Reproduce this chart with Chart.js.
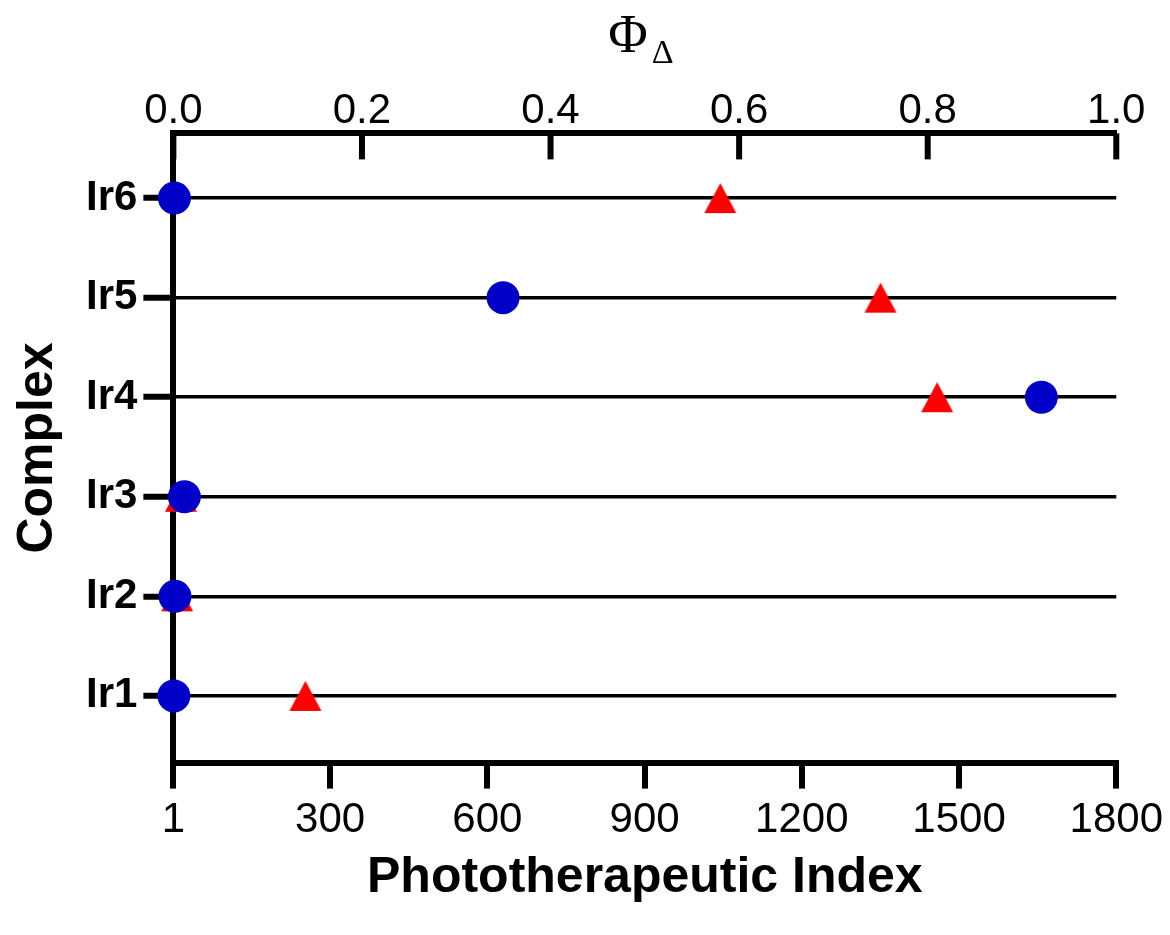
<!DOCTYPE html>
<html>
<head>
<meta charset="utf-8">
<script src="https://cdn.jsdelivr.net/npm/chart.js@4.4.1/dist/chart.umd.min.js"></script>
<style>
  html, body { margin: 0; padding: 0; background: #fff; }
</style>
</head>
<body>
<canvas id="chart" width="1170" height="935"></canvas>
<script>
// Data
const complexes = ['Ir1', 'Ir2', 'Ir3', 'Ir4', 'Ir5', 'Ir6'];
const ptIndex = [2, 4, 22, 1657, 630, 3];              // blue circles, bottom axis
const phiDelta = [0.14, 0.004, 0.008, 0.81, 0.75, 0.58]; // red triangles, top axis
const ptTicks = [1, 300, 600, 900, 1200, 1500, 1800];
const phiTicks = [0, 0.2, 0.4, 0.6, 0.8, 1.0];

const FONT = '"Liberation Sans", Arial, sans-serif';

// triangle marker, box centred on the point
function makeTriangle(color) {
    const c = document.createElement('canvas');
    c.width = 36;
    c.height = 36;
    const g = c.getContext('2d');
    g.fillStyle = color;
    g.beginPath();
    g.moveTo(18, 3);
    g.lineTo(34, 33);
    g.lineTo(2, 33);
    g.closePath();
    g.fill();
    return c;
}

// inward tick marks on the top axis + the Φ_Δ title
const topAxisExtras = {
    id: 'topAxisExtras',
    beforeDatasetsDraw(chart) {
        const s = chart.scales.x2;
        const ctx = chart.ctx;
        ctx.save();
        ctx.strokeStyle = '#000';
        ctx.lineWidth = 6;
        s.ticks.forEach(t => {
            const px = s.getPixelForValue(t.value);
            ctx.beginPath();
            ctx.moveTo(px, s.bottom);
            ctx.lineTo(px, s.bottom + 26);
            ctx.stroke();
        });
        ctx.restore();
    },
    afterDraw(chart) {
        const area = chart.chartArea;
        const ctx = chart.ctx;
        const cx = (area.left + area.right) / 2;
        ctx.save();
        ctx.fillStyle = '#000';
        ctx.textBaseline = 'alphabetic';
        ctx.textAlign = 'left';
        ctx.font = '54px "Liberation Serif", "Times New Roman", serif';
        const wPhi = ctx.measureText('Φ').width;
        ctx.font = '34px "Liberation Serif", "Times New Roman", serif';
        const wDel = ctx.measureText('Δ').width;
        const x0 = cx - (wPhi + 4 + wDel) / 2 - 4;
        ctx.font = '54px "Liberation Serif", "Times New Roman", serif';
        ctx.fillText('Φ', x0, 52);
        ctx.font = '34px "Liberation Serif", "Times New Roman", serif';
        ctx.fillText('Δ', x0 + wPhi + 4, 63);
        ctx.restore();
    }
};

new Chart(document.getElementById('chart'), {
    type: 'scatter',
    data: {
        datasets: [{
            label: 'Phototherapeutic Index',
            data: ptIndex.map((v, i) => ({ x: v, y: i + 1 })),
            xAxisID: 'x',
            yAxisID: 'y',
            pointStyle: 'circle',
            pointRadius: 16.5,
            pointBorderWidth: 0,
            backgroundColor: '#0000c8',
            borderColor: '#0000c8',
            clip: false
        }, {
            label: 'ΦΔ',
            data: phiDelta.map((v, i) => ({ x: v, y: i + 1 })),
            xAxisID: 'x2',
            yAxisID: 'y',
            pointStyle: makeTriangle('#ff0000'),
            pointRadius: 18,
            backgroundColor: '#ff0000',
            borderColor: '#ff0000',
            clip: false
        }]
    },
    options: {
        responsive: false,
        animation: false,
        events: [],
        layout: {
            padding: { top: 89, right: 7, left: 0, bottom: 0 }
        },
        plugins: {
            legend: { display: false },
            tooltip: { enabled: false },
            title: { display: false }
        },
        scales: {
            x: {
                type: 'linear',
                position: 'bottom',
                min: 1,
                max: 1800,
                afterBuildTicks: scale => {
                    scale.ticks = ptTicks.map(v => ({ value: v }));
                },
                ticks: {
                    autoSkip: false,
                    maxRotation: 0,
                    color: '#000',
                    padding: 7,
                    font: { family: FONT, size: 42 },
                    callback: v => String(v)
                },
                grid: {
                    drawOnChartArea: false,
                    color: '#000',
                    lineWidth: 6,
                    tickWidth: 6,
                    tickLength: 26
                },
                border: { display: true, color: '#000', width: 6 },
                title: {
                    display: true,
                    text: 'Phototherapeutic Index',
                    color: '#000',
                    font: { family: FONT, size: 50, weight: 'bold', lineHeight: 1.0 },
                    padding: { top: 0, bottom: 32 }
                }
            },
            x2: {
                type: 'linear',
                position: 'top',
                min: 0,
                max: 1,
                afterBuildTicks: scale => {
                    scale.ticks = phiTicks.map(v => ({ value: v }));
                },
                ticks: {
                    autoSkip: false,
                    maxRotation: 0,
                    color: '#000',
                    padding: -3,
                    font: { family: FONT, size: 42 },
                    callback: v => Number(v).toFixed(1)
                },
                grid: {
                    drawOnChartArea: false,
                    drawTicks: false
                },
                border: { display: true, color: '#000', width: 6 }
            },
            y: {
                type: 'linear',
                position: 'left',
                min: 0.33,
                max: 6.65,
                afterBuildTicks: scale => {
                    scale.ticks = complexes.map((c, i) => ({ value: i + 1 }));
                },
                ticks: {
                    autoSkip: false,
                    color: '#000',
                    padding: 6,
                    font: { family: FONT, size: 42, weight: 'bold' },
                    callback: v => complexes[Math.round(v) - 1]
                },
                grid: {
                    color: '#000',
                    lineWidth: 3.5,
                    tickWidth: 6,
                    tickLength: 30
                },
                border: { display: true, color: '#000', width: 6 },
                title: {
                    display: true,
                    text: 'Complex',
                    color: '#000',
                    font: { family: FONT, size: 50, weight: 'bold' },
                    padding: { top: 8, bottom: 12 }
                }
            }
        }
    },
    plugins: [topAxisExtras]
});
</script>
</body>
</html>
